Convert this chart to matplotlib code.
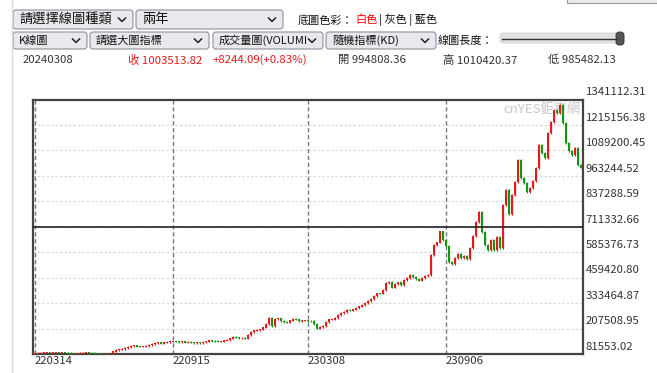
import numpy as np
import matplotlib.pyplot as plt
from matplotlib.patches import FancyBboxPatch, Rectangle

plt.rcParams['font.family'] = ['Noto Sans CJK TC', 'DejaVu Sans']

# 收盤價 (約每 3 個交易日一點, 220314 ~ 240308)
closes = [85000, 86000, 87000, 89000, 90000, 88000, 89000, 89000, 88000, 89000,
          87000, 86000, 85000, 84000, 85000, 86000, 87000, 89000, 87000, 86000,
          85000, 84000, 83000, 83000, 82000, 82000, 94000, 101000, 104000, 106000,
          111000, 116000, 121000, 123000, 119000, 118000, 119000, 121000, 126000, 131000,
          136000, 137000, 135000, 138000, 141000, 142000, 144000, 143000, 141000, 143000,
          140000, 141000, 138000, 136000, 137000, 136000, 141000, 144000, 147000, 146000,
          145000, 142000, 143000, 148000, 151000, 158000, 166000, 163000, 161000, 161000,
          159000, 176000, 190000, 198000, 200000, 204000, 212000, 230000, 260000, 220000,
          255000, 257000, 245000, 240000, 238000, 247000, 255000, 252000, 245000, 246000,
          247000, 245000, 245000, 230000, 209000, 215000, 220000, 240000, 252000, 253000,
          260000, 275000, 284000, 289000, 299000, 297000, 303000, 309000, 317000, 324000,
          334000, 344000, 354000, 369000, 382000, 381000, 398000, 433000, 438000, 410000,
          428000, 435000, 423000, 448000, 458000, 472000, 463000, 453000, 445000, 458000,
          468000, 472000, 571000, 621000, 632000, 687000, 646000, 616000, 537000, 527000,
          557000, 576000, 557000, 567000, 552000, 606000, 666000, 735000, 784000, 685000,
          621000, 596000, 646000, 596000, 661000, 606000, 819000, 893000, 774000, 868000,
          933000, 1042000, 953000, 928000, 883000, 903000, 938000, 1002000, 1116000, 1076000,
          1052000, 1175000, 1230000, 1289000, 1274000, 1314000, 1225000, 1126000, 1086000, 1066000,
          1101000, 1017000, 1003514]
first_open = 84000

date_labels = ['220314', '220915', '230308', '230906']
date_idx = [0, 46, 91, 137]
y_ticks = [81553.02, 207508.95, 333464.87, 459420.80, 585376.73, 711332.66,
           837288.59, 963244.52, 1089200.45, 1215156.38, 1341112.31]
cross_y = 708600

info_date = '20240308'
info_close = 1003513.82
info_chg = 8244.09
info_pct = 0.83
info_open = 994808.36
info_high = 1010420.37
info_low = 985482.13

RED = '#e31b1b'
GREEN = '#139413'

fig = plt.figure(figsize=(6.57, 3.73), dpi=100)

# ---- 上方控制列 (像素座標) ----
ui = fig.add_axes([0, 0, 1, 1])
ui.set_xlim(0, 657)
ui.set_ylim(373, 0)
ui.axis('off')

ui.plot([12, 12], [0, 373], color='#dadada', lw=1)
ui.add_patch(Rectangle((567, -6), 95, 9, fc='#e9e9e9', ec='#999999', lw=0.8))


def dropdown(x0, x1, y0, y1, label, fs):
    ui.add_patch(FancyBboxPatch((x0, y0), x1 - x0, y1 - y0,
                                boxstyle='round,pad=0,rounding_size=3',
                                fc='#e9e9ed', ec='#8f8f9d', lw=0.8))
    cy = (y0 + y1) / 2
    ui.text(x0 + 6, cy, label, va='center', ha='left', fontsize=fs, color='#111')
    cx = x1 - 11
    ui.plot([cx - 3.5, cx, cx + 3.5], [cy - 1.5, cy + 2, cy - 1.5], color='#222', lw=1.1)


dropdown(13, 133, 10, 29, '請選擇線圖種類', 9.5)
dropdown(136, 283, 10, 29, '兩年', 9.5)
ui.text(298, 20, '底圖色彩：', va='center', fontsize=8, color='#111')
ui.text(355, 20, '白色', va='center', fontsize=8, color='red')
ui.text(379, 20, '| 灰色 | 藍色', va='center', fontsize=8, color='#111')

dropdown(13, 87, 32, 49, 'K線圖', 8)
dropdown(90, 209, 32, 49, '請選大圖指標', 8)
dropdown(213, 323, 32, 49, '成交量圖(VOLUMI', 8)
dropdown(326, 436, 32, 49, '隨機指標(KD)', 8)
ui.text(438, 41, '線圖長度：', va='center', fontsize=8, color='#111')
ui.add_patch(FancyBboxPatch((500, 33), 124, 10, boxstyle='round,pad=0,rounding_size=4',
                            fc='#e2e2e2', ec='#cfcfcf', lw=0.6))
ui.plot([502, 617], [38.5, 38.5], color='#333', lw=1)
ui.add_patch(FancyBboxPatch((616, 32), 8, 13, boxstyle='round,pad=0,rounding_size=3',
                            fc='#555', ec='#333', lw=0.6))

ui.text(23, 60, info_date, va='center', fontsize=8.2, color='#333')
ui.text(128, 60, f'收 {info_close:.2f}', va='center', fontsize=8.2, color=RED)
ui.text(213, 60, f'+{info_chg:.2f}(+{info_pct:.2f}%)', va='center', fontsize=8.2, color=RED)
ui.text(338, 60, f'開 {info_open:.2f}', va='center', fontsize=8.2, color='#333')
ui.text(443, 60, f'高 {info_high:.2f}', va='center', fontsize=8.2, color='#333')
ui.text(548, 60, f'低 {info_low:.2f}', va='center', fontsize=8.2, color='#333')

# ---- K 線圖 ----
ax = fig.add_axes([33 / 657, 19 / 373, 550 / 657, 254.5 / 373])
ax.set_facecolor('white')

c = np.array(closes, dtype=float)
o = np.concatenate([[first_open], c[:-1]])
x = np.arange(len(c))
lo = np.minimum(o, c)
hi = np.maximum(o, c)
cols = [RED if cc >= oo else GREEN for oo, cc in zip(o, c)]
# 影線 + 實體
pad = 3500
ax.vlines(x, lo - pad, hi + pad, colors=cols, lw=0.9, zorder=4)
ax.bar(x, hi - lo + pad, bottom=lo - pad / 2, width=0.62, color=cols, linewidth=0,
       zorder=4)

for v in y_ticks[1:-1]:
    ax.axhline(v, color='#d4d4d4', lw=0.8, ls=(0, (2, 2)), zorder=0)
for i in date_idx:
    ax.axvline(i, color='#777', lw=1, ls=(0, (3, 2)), zorder=1)
ax.axhline(cross_y, color='#222', lw=1.2, zorder=5)

ax.text(0.995, 0.985, 'cnYES鉅亨網', transform=ax.transAxes, ha='right', va='top',
        color='#c8c8c8', fontsize=9.5, zorder=2)

ax.set_xlim(-0.67, len(c) - 0.33)
ax.set_ylim(y_ticks[0], y_ticks[-1])
ax.set_xticks([])
ax.set_yticks([])
for s in ax.spines.values():
    s.set_color('#444')
    s.set_linewidth(1.6)

for v in y_ticks:
    ax.annotate(f'{v:.2f}', xy=(1, v), xycoords=('axes fraction', 'data'),
                xytext=(2, 5.2), textcoords='offset points', ha='left', va='center',
                fontsize=8.2, color='#333', annotation_clip=False)
for i, lbl in zip(date_idx, date_labels):
    ax.annotate(lbl, xy=(i, 0), xycoords=('data', 'axes fraction'),
                xytext=(0, -5.2), textcoords='offset points', ha='left', va='center',
                fontsize=8.2, color='#333', annotation_clip=False)

fig.savefig('out.png', dpi=100)
